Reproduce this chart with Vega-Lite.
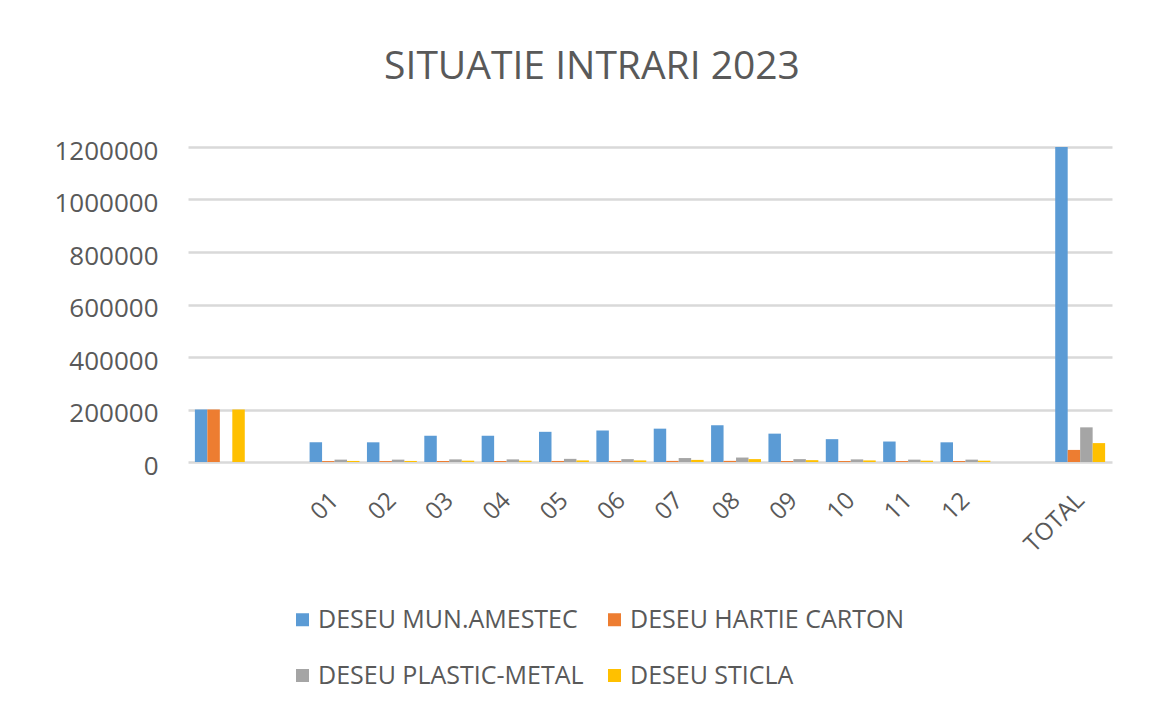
{
  "$schema": "https://vega.github.io/schema/vega-lite/v6.json",
  "autosize": {"type": "none"},
  "width": 924,
  "height": 315,
  "padding": {"left": 188, "top": 147, "right": 58, "bottom": 246},
  "background": "white",
  "title": {
    "text": "SITUATIE INTRARI 2023",
    "font": "Open Sans",
    "fontSize": 39,
    "fontWeight": "normal",
    "color": "#595959",
    "baseline": "alphabetic",
    "offset": 20,
    "dx": -58
  },
  "data": {
    "values": [
      {"cat": " ", "serie": "DESEU MUN.AMESTEC", "value": 200000},
      {"cat": " ", "serie": "DESEU HARTIE CARTON", "value": 200000},
      {"cat": " ", "serie": "DESEU PLASTIC-METAL", "value": 0},
      {"cat": " ", "serie": "DESEU STICLA", "value": 200000},
      {"cat": "01", "serie": "DESEU MUN.AMESTEC", "value": 75000},
      {"cat": "01", "serie": "DESEU HARTIE CARTON", "value": 3500},
      {"cat": "01", "serie": "DESEU PLASTIC-METAL", "value": 9000},
      {"cat": "01", "serie": "DESEU STICLA", "value": 4000},
      {"cat": "02", "serie": "DESEU MUN.AMESTEC", "value": 75000},
      {"cat": "02", "serie": "DESEU HARTIE CARTON", "value": 3500},
      {"cat": "02", "serie": "DESEU PLASTIC-METAL", "value": 9000},
      {"cat": "02", "serie": "DESEU STICLA", "value": 4000},
      {"cat": "03", "serie": "DESEU MUN.AMESTEC", "value": 100000},
      {"cat": "03", "serie": "DESEU HARTIE CARTON", "value": 3800},
      {"cat": "03", "serie": "DESEU PLASTIC-METAL", "value": 10000},
      {"cat": "03", "serie": "DESEU STICLA", "value": 5000},
      {"cat": "04", "serie": "DESEU MUN.AMESTEC", "value": 100000},
      {"cat": "04", "serie": "DESEU HARTIE CARTON", "value": 3800},
      {"cat": "04", "serie": "DESEU PLASTIC-METAL", "value": 10000},
      {"cat": "04", "serie": "DESEU STICLA", "value": 5000},
      {"cat": "05", "serie": "DESEU MUN.AMESTEC", "value": 115000},
      {"cat": "05", "serie": "DESEU HARTIE CARTON", "value": 4000},
      {"cat": "05", "serie": "DESEU PLASTIC-METAL", "value": 12000},
      {"cat": "05", "serie": "DESEU STICLA", "value": 6000},
      {"cat": "06", "serie": "DESEU MUN.AMESTEC", "value": 120000},
      {"cat": "06", "serie": "DESEU HARTIE CARTON", "value": 4000},
      {"cat": "06", "serie": "DESEU PLASTIC-METAL", "value": 11000},
      {"cat": "06", "serie": "DESEU STICLA", "value": 6000},
      {"cat": "07", "serie": "DESEU MUN.AMESTEC", "value": 127000},
      {"cat": "07", "serie": "DESEU HARTIE CARTON", "value": 4200},
      {"cat": "07", "serie": "DESEU PLASTIC-METAL", "value": 15000},
      {"cat": "07", "serie": "DESEU STICLA", "value": 8000},
      {"cat": "08", "serie": "DESEU MUN.AMESTEC", "value": 140000},
      {"cat": "08", "serie": "DESEU HARTIE CARTON", "value": 4300},
      {"cat": "08", "serie": "DESEU PLASTIC-METAL", "value": 17000},
      {"cat": "08", "serie": "DESEU STICLA", "value": 11000},
      {"cat": "09", "serie": "DESEU MUN.AMESTEC", "value": 108000},
      {"cat": "09", "serie": "DESEU HARTIE CARTON", "value": 3900},
      {"cat": "09", "serie": "DESEU PLASTIC-METAL", "value": 11000},
      {"cat": "09", "serie": "DESEU STICLA", "value": 7000},
      {"cat": "10", "serie": "DESEU MUN.AMESTEC", "value": 87000},
      {"cat": "10", "serie": "DESEU HARTIE CARTON", "value": 3700},
      {"cat": "10", "serie": "DESEU PLASTIC-METAL", "value": 10000},
      {"cat": "10", "serie": "DESEU STICLA", "value": 6000},
      {"cat": "11", "serie": "DESEU MUN.AMESTEC", "value": 78000},
      {"cat": "11", "serie": "DESEU HARTIE CARTON", "value": 3600},
      {"cat": "11", "serie": "DESEU PLASTIC-METAL", "value": 9000},
      {"cat": "11", "serie": "DESEU STICLA", "value": 5000},
      {"cat": "12", "serie": "DESEU MUN.AMESTEC", "value": 75000},
      {"cat": "12", "serie": "DESEU HARTIE CARTON", "value": 3700},
      {"cat": "12", "serie": "DESEU PLASTIC-METAL", "value": 9000},
      {"cat": "12", "serie": "DESEU STICLA", "value": 5000},
      {"cat": "TOTAL", "serie": "DESEU MUN.AMESTEC", "value": 1200000},
      {"cat": "TOTAL", "serie": "DESEU HARTIE CARTON", "value": 46000},
      {"cat": "TOTAL", "serie": "DESEU PLASTIC-METAL", "value": 132000},
      {"cat": "TOTAL", "serie": "DESEU STICLA", "value": 72000}
    ]
  },
  "mark": {"type": "bar"},
  "encoding": {
    "x": {
      "field": "cat",
      "type": "nominal",
      "scale": {
        "domain": [" ", "  ", "01", "02", "03", "04", "05", "06", "07", "08", "09", "10", "11", "12", "   ", "TOTAL"],
        "paddingInner": 0.13,
        "paddingOuter": 0.12
      },
      "axis": {
        "title": null,
        "domain": false,
        "ticks": false,
        "tickSize": 0,
        "labelAngle": -45,
        "labelFontSize": 24,
        "labelFont": "Open Sans",
        "labelColor": "#595959",
        "labelPadding": 26,
        "labelOffset": -8,
        "grid": false
      }
    },
    "xOffset": {
      "field": "serie",
      "type": "nominal",
      "scale": {
        "domain": ["DESEU MUN.AMESTEC", "DESEU HARTIE CARTON", "DESEU PLASTIC-METAL", "DESEU STICLA"],
        "paddingInner": 0,
        "paddingOuter": 0
      }
    },
    "y": {
      "field": "value",
      "type": "quantitative",
      "scale": {"domain": [0, 1200000], "nice": false},
      "axis": {
        "title": null,
        "values": [0, 200000, 400000, 600000, 800000, 1000000, 1200000],
        "format": "d",
        "domain": false,
        "ticks": false,
        "tickSize": 0,
        "labelFontSize": 26,
        "labelFont": "Open Sans",
        "labelColor": "#595959",
        "labelPadding": 30,
        "labelOffset": 4,
        "gridColor": "#D9D9D9",
        "gridWidth": 2.5
      }
    },
    "color": {
      "field": "serie",
      "type": "nominal",
      "scale": {
        "domain": ["DESEU MUN.AMESTEC", "DESEU HARTIE CARTON", "DESEU PLASTIC-METAL", "DESEU STICLA"],
        "range": ["#5B9BD5", "#ED7D31", "#A5A5A5", "#FFC000"]
      },
      "legend": {
        "title": null,
        "orient": "none",
        "legendX": 102,
        "legendY": 460,
        "direction": "horizontal",
        "columns": 2,
        "columnPadding": 18,
        "rowPadding": 30,
        "symbolType": "square",
        "symbolSize": 169,
        "symbolStrokeWidth": 0,
        "labelOffset": 3,
        "labelFontSize": 25,
        "labelFont": "Open Sans",
        "labelColor": "#595959",
        "labelLimit": 400,
        "padding": 0
      }
    }
  },
  "config": {
    "view": {"stroke": null},
    "font": "Open Sans"
  }
}
